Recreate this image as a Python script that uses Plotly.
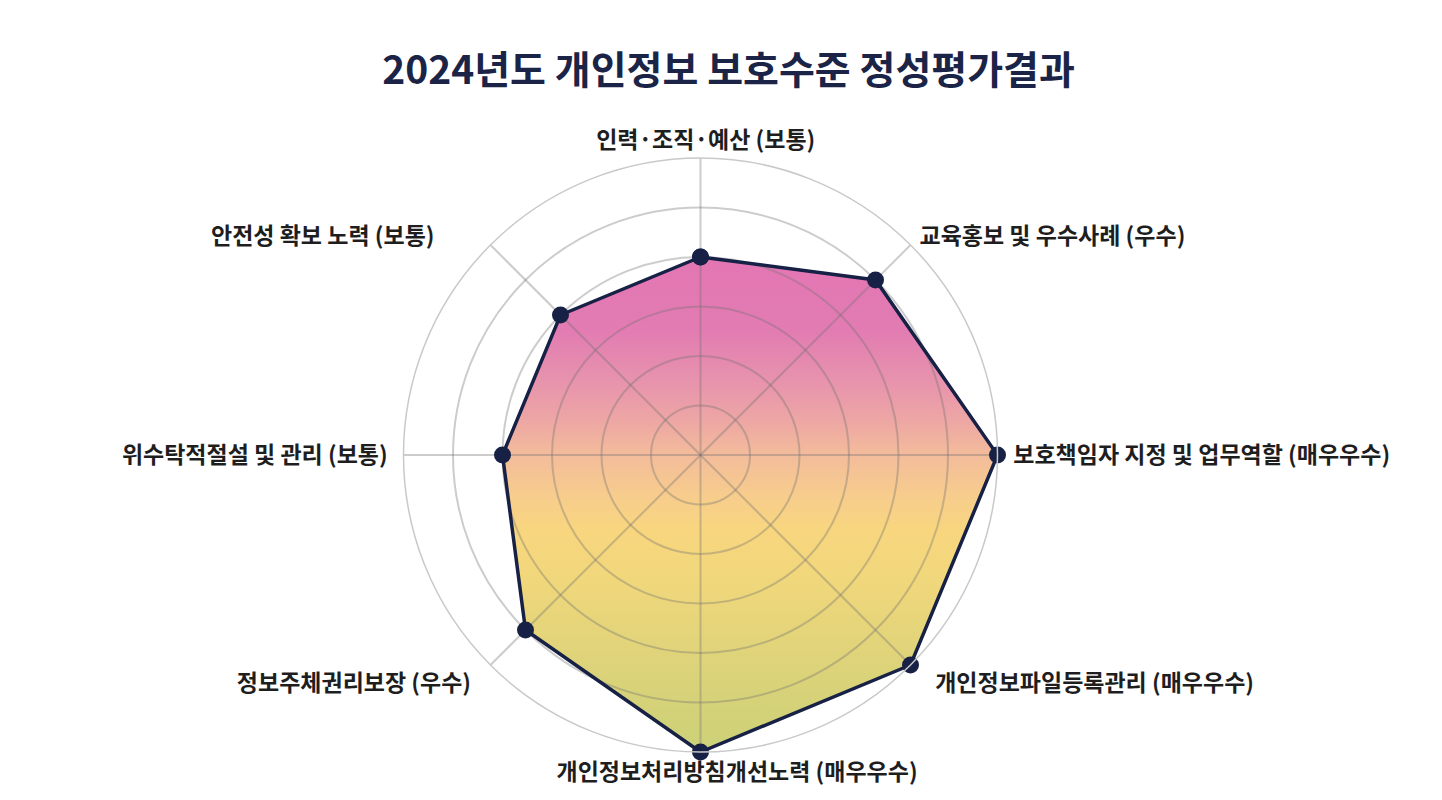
import numpy as np
import plotly.graph_objects as go

# 평가 항목 (12시 방향부터 시계방향)
categories = [
    "인력·조직·예산 (보통)",
    "교육홍보 및 우수사례 (우수)",
    "보호책임자 지정 및 업무역할 (매우우수)",
    "개인정보파일등록관리 (매우우수)",
    "개인정보처리방침개선노력 (매우우수)",
    "정보주체권리보장 (우수)",
    "위수탁적절설 및 관리 (보통)",
    "안전성 확보 노력 (보통)",
]
# 보통 = 4, 우수 = 5, 매우우수 = 6
scores = [4, 5, 6, 6, 6, 5, 4, 4]
score_max = 6

NAVY = "#172145"
GRID = "rgba(115,115,115,0.36)"
FONT = "Noto Sans CJK KR"

# 그라데이션 채우기 (아래 -> 위)
fill_scale = [
    [0.00, "#ccd177"],
    [0.11, "#d6d279"],
    [0.23, "#e3d47a"],
    [0.35, "#f1d77b"],
    [0.45, "#f8d67f"],
    [0.52, "#f7cc8d"],
    [0.60, "#f3bc9b"],
    [0.67, "#eda6a4"],
    [0.75, "#e793ad"],
    [0.85, "#e27cb2"],
    [1.00, "#e376b4"],
]

# 라벨 여백 (앞/뒤 공백 개수)
NB = "\u00a0"
pad_before = [2, 1, 2, 4, 14, 0, 0, 0]
pad_after = [0, 0, 0, 0, 0, 3, 2, 10]
tick_labels = [NB * a + c + NB * b for c, a, b in zip(categories, pad_before, pad_after)]

# 페이지 body 여백(8px)을 빼고 그림 크기를 잡음
W, H = 1426, 784
cx, cy, rad = 692.5, 447, 297
dom_x = [(cx - rad) / W, (cx + rad) / W]
dom_y = [(H - cy - rad) / H, (H - cy + rad) / H]

# 같은 값으로 cartesian 채우기용 좌표 계산
ang = np.deg2rad(np.arange(len(scores)) * 360 / len(scores))
vals = np.array(scores, dtype=float)
fx = list(vals * np.sin(ang)) + [vals[0] * np.sin(ang[0])]
fy = list(vals * np.cos(ang)) + [vals[0] * np.cos(ang[0])]

fig = go.Figure()

fig.add_trace(go.Scatter(
    x=fx, y=fy,
    mode="lines",
    fill="toself",
    fillgradient=dict(type="vertical", colorscale=fill_scale),
    line=dict(width=0, color="rgba(0,0,0,0)"),
    hoverinfo="skip",
    showlegend=False,
))

fig.add_trace(go.Scatterpolar(
    r=scores + [scores[0]],
    theta=categories + [categories[0]],
    mode="lines+markers",
    line=dict(color=NAVY, width=3.5),
    marker=dict(size=17, color=NAVY),
    showlegend=False,
))

fig.update_layout(
    width=W,
    height=H,
    autosize=False,
    margin=dict(l=0, r=0, t=0, b=0),
    paper_bgcolor="white",
    plot_bgcolor="rgba(0,0,0,0)",
    title=dict(
        text="2024년도 개인정보 보호수준 정성평가결과",
        x=720.5 / W,
        xanchor="center",
        y=1 - 62 / H,
        yanchor="middle",
        font=dict(family=FONT, size=39, color="#1b2447", weight="bold"),
    ),
    xaxis=dict(domain=dom_x, range=[-score_max, score_max], visible=False, fixedrange=True),
    yaxis=dict(domain=dom_y, range=[-score_max, score_max], visible=False, fixedrange=True),
    polar=dict(
        domain=dict(x=dom_x, y=dom_y),
        bgcolor="rgba(0,0,0,0)",
        angularaxis=dict(
            rotation=90,
            direction="clockwise",
            showline=True,
            linecolor="#c9c9c9",
            linewidth=1.5,
            gridcolor=GRID,
            gridwidth=1.5,
            ticks="",
            tickmode="array",
            tickvals=categories,
            ticktext=tick_labels,
            tickfont=dict(family=FONT, size=23, color="#1e1e1e", weight="bold"),
        ),
        radialaxis=dict(
            range=[0, score_max],
            dtick=1,
            showticklabels=False,
            ticks="",
            showline=False,
            gridcolor=GRID,
            gridwidth=1.5,
        ),
    ),
)

fig.write_html("out.html")
